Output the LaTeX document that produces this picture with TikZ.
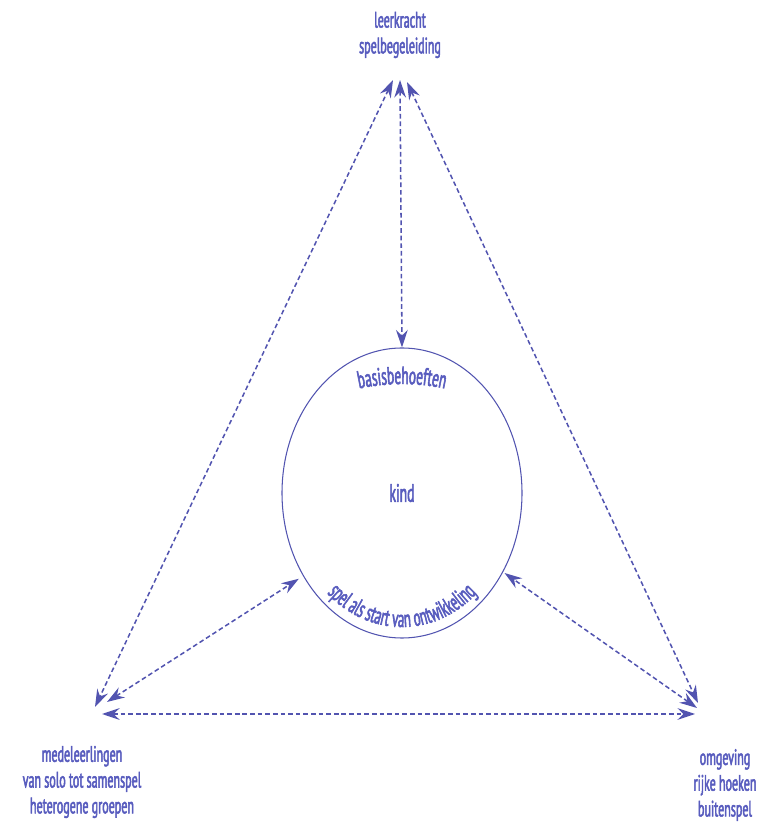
\documentclass[tikz,border=0pt]{standalone}
\usepackage{fontspec}
\usepackage{xcolor}
\usepackage{tikz}
\usetikzlibrary{arrows.meta,shapes.geometric,decorations.text}
\newfontfamily\condfont[FakeStretch=0.54,FakeBold=2.2]{PT Sans}
\definecolor{linkblue}{RGB}{82,84,176}
\definecolor{labelblue}{RGB}{88,92,190}

\begin{document}
\begin{tikzpicture}[x=0.3mm,y=0.3mm,
  link/.style={linkblue,line width=1.3pt,dash pattern=on 4pt off 2.5pt,
    {Stealth[length=15pt,width=10pt,inset=5pt]}-{Stealth[length=15pt,width=10pt,inset=5pt]}},
  corner/.style={align=center,text=labelblue,font=\condfont\fontsize{19}{22}\selectfont}]
  \useasboundingbox (0,0) rectangle (778,822);
  \node[draw=linkblue,line width=0.9pt,ellipse,minimum width=72mm,minimum height=87mm,inner sep=0pt,
    text=labelblue,font=\condfont\fontsize{21.5}{22}\selectfont] (kind) at (402,329) {kind};
  \path[decorate,decoration={text along path,text align=center,text color=labelblue,
    text={|\condfont\fontsize{21}{21}\selectfont|basisbehoeften}}]
    ([shift={(150:150 and 109)}]kind.center) arc[start angle=150,end angle=30,x radius=150,y radius=109];
  \path[decorate,decoration={text along path,text align=center,text color=labelblue,
    text={|\condfont\fontsize{20.5}{20.5}\selectfont|spel als start van ontwikkeling}}]
    ([shift={(212:113 and 134)}]kind.center) arc[start angle=212,end angle=328,x radius=113,y radius=134];
  \node[corner] (leerkracht) at (400,787) {leerkracht\\spelbegeleiding};
  \node[corner] (medeleerlingen) at (82,40) {medeleerlingen\\van solo tot samenspel\\heterogene groepen};
  \node[corner] (omgeving) at (725,37) {omgeving\\rijke hoeken\\buitenspel};
  \coordinate (top-l) at (393,742);
  \coordinate (top-m) at (400,742);
  \coordinate (top-r) at (407,740);
  \coordinate (left-t) at (95,115);
  \coordinate (left-k) at (107,120);
  \coordinate (left-r) at (102,108);
  \coordinate (right-t) at (698,119);
  \coordinate (right-k) at (697,114);
  \coordinate (right-l) at (695,108);
  \draw[link] (top-m) -- (kind.north);
  \draw[link] (top-l) -- (left-t);
  \draw[link] (top-r) -- (right-t);
  \draw[link] (left-r) -- (right-l);
  \draw[link,shorten >=1.5mm] (left-k) -- (kind.220);
  \draw[link,shorten >=0.5mm] (right-k) -- (kind.-38);
\end{tikzpicture}
\end{document}
